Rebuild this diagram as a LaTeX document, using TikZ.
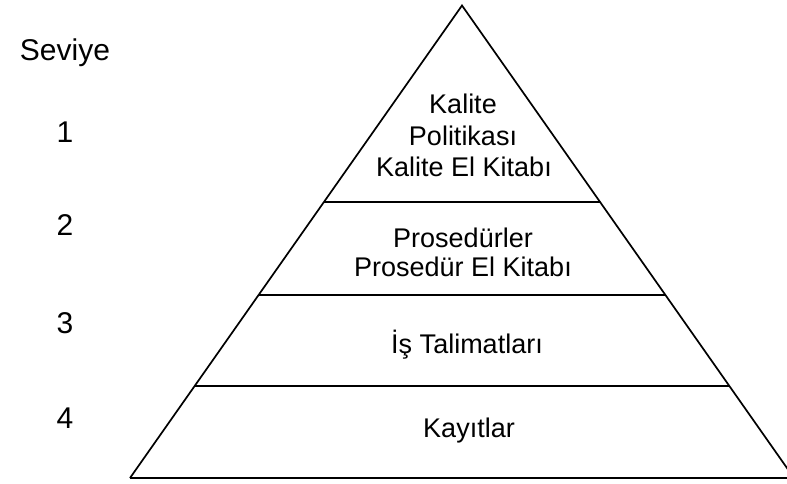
\documentclass[tikz,border=0pt]{standalone}
\usepackage{fontspec}
\setmainfont{Liberation Sans}
\begin{document}
\begin{tikzpicture}[x=1pt,y=-1pt,
  edge/.style={line width=1.7pt, line join=miter},
  basel/.style={line width=2.3pt},
  sep/.style={line width=2pt},
  lbl/.style={font=\fontsize{27}{31}\selectfont, anchor=base, inner sep=0pt},
  lvl/.style={font=\fontsize{30}{34}\selectfont, anchor=base, inner sep=0pt}]
\useasboundingbox (0,0) rectangle (787,483);
\clip (0,0) rectangle (787,483);
\coordinate (apex) at (462,5.5);
\coordinate (bl) at (130,478);
\coordinate (br) at (794,478);
\draw[edge] (bl) -- (apex) -- (br);
\draw[basel] (bl) -- (br);
% separators
\path (apex) -- (bl) coordinate[pos=0.4165] (a1) coordinate[pos=0.6131] (a2) coordinate[pos=0.8055] (a3);
\path (apex) -- (br) coordinate[pos=0.4165] (b1) coordinate[pos=0.6131] (b2) coordinate[pos=0.8055] (b3);
\draw[sep] (a1) -- (b1);
\draw[sep] (a2) -- (b2);
\draw[sep] (a3) -- (b3);
\node[lbl] (t1a) at (463,113) {Kalite};
\node[lbl] (t1b) at (463,145) {Politikası};
\node[lbl] (t1c) at (464,176) {Kalite El Kitabı};
\node[lbl] (t2a) at (463,247) {Prosedürler};
\node[lbl] (t2b) at (463,276) {Prosedür El Kitabı};
\node[lbl] (t3) at (467,353) {İş Talimatları};
\node[lbl] (t4) at (469,437) {Kayıtlar};
\node[lvl] (s) at (65,60) {Seviye};
\node[lvl] (n1) at (65,142) {1};
\node[lvl] (n2) at (65,235) {2};
\node[lvl] (n3) at (65,333) {3};
\node[lvl] (n4) at (65,428) {4};
\end{tikzpicture}
\end{document}
